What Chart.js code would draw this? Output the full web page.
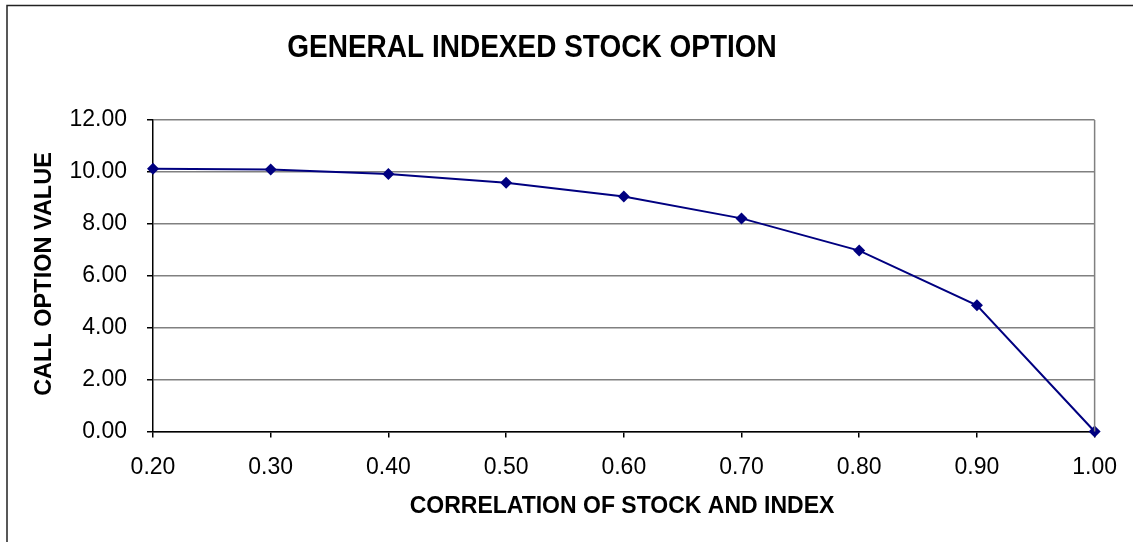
<!DOCTYPE html>
<html>
<head>
<meta charset="utf-8">
<script src="https://cdn.jsdelivr.net/npm/chart.js@4/dist/chart.umd.min.js"></script>
<style>
  html, body { margin: 0; padding: 0; background: #fff; }
  #wrap { width: 1133px; height: 542px; position: relative; }
</style>
</head>
<body>
<div id="wrap"><canvas id="c" width="1133" height="542"></canvas></div>
<script>
// Correlation between stock and index (x) and call option value (y)
const correlations = [0.20, 0.30, 0.40, 0.50, 0.60, 0.70, 0.80, 0.90, 1.00];
const callValues   = [10.12, 10.09, 9.92, 9.58, 9.05, 8.21, 6.97, 4.86, 0.00];

const chartTitle = 'GENERAL INDEXED STOCK OPTION';
const xTitle = 'CORRELATION OF STOCK AND INDEX';
const yTitle = 'CALL OPTION VALUE';

const FONT = "'Liberation Sans', Arial, sans-serif";

// Frame, plot border and titles
const decorations = {
  id: 'decorations',
  beforeDraw(chart) {
    const ctx = chart.ctx;
    ctx.save();
    ctx.fillStyle = '#fff';
    ctx.fillRect(0, 0, chart.width, chart.height);
    ctx.strokeStyle = '#222';
    ctx.lineWidth = 1.5;
    ctx.beginPath();
    ctx.moveTo(7, chart.height);
    ctx.lineTo(7, 5.5);
    ctx.lineTo(chart.width, 5.5);
    ctx.stroke();
    ctx.restore();
  },
  afterDraw(chart) {
    const ctx = chart.ctx;
    const a = chart.chartArea;
    ctx.save();
    // right edge of plot area
    ctx.strokeStyle = '#808080';
    ctx.lineWidth = 1.5;
    ctx.beginPath();
    ctx.moveTo(a.right, a.top);
    ctx.lineTo(a.right, a.bottom);
    ctx.stroke();

    ctx.fillStyle = '#000';
    ctx.textAlign = 'center';
    ctx.textBaseline = 'alphabetic';

    // main title, slightly tall letterforms
    ctx.save();
    ctx.translate(532, 57);
    ctx.scale(1, 1.12);
    ctx.font = 'bold 28px ' + FONT;
    ctx.fillText(chartTitle, 0, 0);
    ctx.restore();

    ctx.font = 'bold 23px ' + FONT;
    ctx.fillText(xTitle, 622, 513);

    ctx.translate(51, 274);
    ctx.rotate(-Math.PI / 2);
    ctx.font = 'bold 23.5px ' + FONT;
    ctx.fillText(yTitle, 0, 0);
    ctx.restore();
  }
};

new Chart(document.getElementById('c'), {
  type: 'line',
  data: {
    datasets: [{
      data: correlations.map((x, i) => ({ x, y: callValues[i] })),
      borderColor: '#000080',
      backgroundColor: '#000080',
      borderWidth: 2,
      pointStyle: 'rectRot',
      pointRadius: 6,
      pointBorderWidth: 0,
      tension: 0,
      clip: false
    }]
  },
  options: {
    responsive: false,
    animation: false,
    events: [],
    layout: { padding: { left: 0, top: 120, right: 36, bottom: 0 } },
    plugins: { legend: { display: false }, tooltip: { enabled: false }, title: { display: false } },
    scales: {
      x: {
        type: 'linear',
        min: 0.2, max: 1.0,
        afterFit(s) { s.height = 110.5; },
        afterBuildTicks(s) { s.ticks = correlations.map(v => ({ value: v })); },
        grid: { drawOnChartArea: false, tickLength: 6, tickColor: '#000', lineWidth: 1.5 },
        border: { color: '#000', width: 1.5 },
        ticks: {
          padding: 16,
          color: '#000',
          font: { family: FONT, size: 23 },
          maxRotation: 0,
          callback: v => Number(v).toFixed(2)
        }
      },
      y: {
        min: 0, max: 12,
        afterFit(s) { s.width = 153; },
        grid: { color: '#808080', lineWidth: 1.5, tickLength: 6, tickColor: '#000' },
        border: { color: '#000', width: 1.5 },
        ticks: {
          stepSize: 2,
          padding: 20,
          color: '#000',
          font: { family: FONT, size: 23 },
          callback: v => Number(v).toFixed(2)
        }
      }
    }
  },
  plugins: [decorations]
});
</script>
</body>
</html>
